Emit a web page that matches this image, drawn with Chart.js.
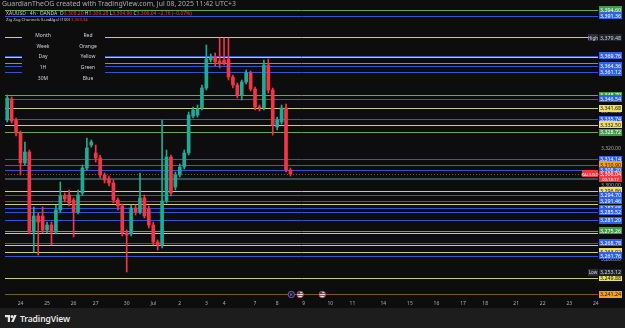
<!DOCTYPE html>
<html>
<head>
<meta charset="utf-8">
<script src="https://cdn.jsdelivr.net/npm/chart.js@4.4.1/dist/chart.umd.min.js"></script>
<style>
  * { margin: 0; padding: 0; box-sizing: border-box; }
  html, body { width: 625px; height: 328px; background: #0d0d0d; overflow: hidden; font-family: "Noto Sans", Arial, sans-serif; }
  #wrap { position: absolute; left: 0; top: 0; width: 625px; height: 308px; }
  #foot { position: absolute; left: 0; top: 308px; width: 625px; height: 20px; background: #1d1d1d; display: flex; align-items: center; padding-left: 5px; }
  #foot span { color: #e6e6e6; font-size: 8.5px; font-weight: 600; margin-left: 3px; letter-spacing: -0.1px; }
</style>
</head>
<body>
<div id="wrap"><canvas id="grafico"></canvas></div>
<div id="foot">
  <svg width="12" height="7" viewBox="0 0 12 7"><path d="M0 0h5v7h-2.2v-4.8h-2.8z" fill="#e6e6e6"/><circle cx="7" cy="1.6" r="1.5" fill="#e6e6e6"/><path d="M6.2 7h2.4l3-7h-2.4z" fill="#e6e6e6"/></svg>
  <span>TradingView</span>
</div>
<script>
// velas 4h XAUUSD
const open  = [3335.20,3346.54,3335.20,3328.18,3311.98,3317.92,3274.72,3283.36,3283.36,3275.80,3278.50,3274.72,3286.60,3294.16,3294.70,3292.00,3285.52,3295.78,3309.28,3321.70,3317.38,3314.68,3305.50,3303.34,3301.18,3292.00,3288.76,3274.18,3273.64,3287.68,3285.52,3293.08,3287.14,3278.50,3269.32,3267.70,3291.46,3315.22,3299.02,3305.50,3309.82,3317.38,3337.36,3337.90,3341.68,3352.48,3367.60,3369.22,3367.06,3367.60,3368.14,3358.42,3354.10,3348.70,3355.72,3360.58,3351.94,3342.22,3341.68,3364.90,3351.40,3331.42,3334.12,3341.68,3308.20];
const high  = [3348.70,3347.62,3336.28,3329.26,3323.32,3319.00,3288.22,3284.98,3288.22,3280.12,3280.12,3289.30,3301.72,3295.78,3297.40,3293.08,3297.40,3310.90,3325.48,3324.40,3321.70,3316.30,3306.58,3304.96,3302.80,3293.08,3289.84,3275.80,3289.30,3289.30,3306.58,3294.70,3288.76,3280.12,3270.40,3335.20,3319.00,3316.30,3307.12,3311.44,3319.00,3339.52,3342.22,3343.30,3354.10,3375.70,3370.84,3371.38,3379.48,3379.48,3379.48,3359.50,3355.18,3356.80,3362.20,3361.66,3353.02,3343.30,3367.60,3368.14,3352.48,3336.82,3343.30,3343.84,3309.28];
const low   = [3334.12,3333.58,3326.56,3305.50,3310.90,3273.64,3263.92,3262.30,3274.18,3274.18,3267.70,3273.64,3285.52,3290.92,3288.76,3272.02,3284.44,3294.70,3308.20,3320.62,3312.52,3303.88,3301.18,3299.56,3290.38,3286.60,3272.56,3253.12,3272.56,3283.90,3284.44,3282.28,3276.88,3267.70,3265.00,3266.08,3290.38,3294.16,3297.40,3304.42,3308.74,3316.30,3336.28,3336.82,3340.60,3351.40,3366.52,3364.36,3363.28,3364.90,3356.80,3352.48,3347.08,3346.00,3354.64,3350.86,3340.60,3340.06,3340.60,3349.78,3327.10,3329.80,3333.04,3307.12,3304.96];
const close = [3347.08,3334.66,3328.18,3311.98,3317.92,3274.72,3283.36,3280.12,3275.80,3278.50,3274.72,3286.60,3294.16,3292.54,3290.38,3285.52,3294.70,3309.28,3320.08,3323.32,3314.68,3305.50,3302.80,3301.18,3292.00,3288.76,3274.18,3273.10,3287.68,3285.52,3293.08,3283.36,3278.50,3269.32,3267.70,3291.46,3315.22,3295.78,3305.50,3309.82,3317.38,3337.90,3340.60,3341.14,3352.48,3368.14,3369.22,3366.52,3365.98,3365.98,3358.42,3354.10,3348.70,3355.72,3360.58,3351.94,3342.22,3341.68,3364.90,3351.40,3332.50,3335.20,3341.68,3308.20,3306.04];

// eje de tiempo: 134 huecos de 4h, etiqueta en el primer hueco de cada dia
const slotCount = 134;
const dayStart  = [3, 9, 15, 20, 27, 33, 39, 45, 49, 56, 61, 67, 73, 78, 85, 91, 97, 103, 108, 115, 121, 127, 133];
const dayLabels = ['24','25','26','27','30','Jul','2','3','4','7','8','9','10','11','14','15','16','17','18','21','22','23','24'];

// niveles del Zig Zag Channels
const levelPrice  = [3394.60,3391.36,3380.02,3369.22,3369.76,3365.98,3364.36,3361.12,3348.70,3346.54,3341.68,3335.74,3332.50,3328.72,3314.14,3310.90,3308.20,3303.34,3296.86,3294.70,3291.46,3289.84,3287.68,3285.52,3281.20,3275.26,3274.18,3267.70,3268.78,3263.92,3261.76,3249.88,3241.24];
const levelFrame  = ['1H','30M','Day','Ref','30M','1H','30M','30M','1H','30M','Day','30M','Day','1H','30M','Week','30M','Band','Day','30M','30M','Day','30M','30M','30M','1H','Day','Ref','30M','Day','30M','Day','Week'];
const levelTagged = [true,true,false,false,true,false,true,true,true,true,true,true,true,true,true,true,true,false,true,true,true,false,true,true,true,true,false,false,true,true,true,true,true];

const priceTicks = [3380, 3360, 3340, 3320, 3300, 3280, 3260];

const tableFrames = ['Month','Week','Day','1H','30M'];
const tableColors = ['Red','Orange','Yellow','Green','Blue'];

const UP = '#22ab94', DOWN = '#f23645';
const lineColor = { '30M': '#2f55d4', '1H': '#6aa84f', 'Day': '#d2cc78', 'Week': '#7a5a26', 'Ref': '#c8c8c8', 'Band': '#33525a' };
const tagBg = { '30M': '#2f62e9', '1H': '#3f9e45', 'Day': '#ece067', 'Week': '#f5a11c' };
const tagFg = { '30M': '#ffffff', '1H': '#ffffff', 'Day': '#141414', 'Week': '#141414' };
const FONT = '"Noto Sans", Arial, sans-serif';

const fmt = v => v.toLocaleString('en-US', { minimumFractionDigits: 2, maximumFractionDigits: 2 });
const isUp = close.map((c, i) => c >= open[i]);

function tag(ctx, py, text, bg, fg, h) {
    ctx.fillStyle = bg;
    ctx.fillRect(599, Math.round(py - h / 2), 23, h);
    ctx.fillStyle = fg;
    ctx.fillText(text, 610.5, py + 0.3);
}

const overlay = {
    id: 'overlay',
    beforeDatasetsDraw(chart) {
        const { ctx, chartArea: a, scales: { y } } = chart;
        ctx.save();
        levelPrice.forEach((v, i) => {
            const f = levelFrame[i];
            const w = f === 'Band' ? 2 : 1;
            const py = Math.round(y.getPixelForValue(v)) + (w === 1 ? 0.5 : 0);
            ctx.strokeStyle = lineColor[f];
            ctx.lineWidth = w;
            ctx.beginPath(); ctx.moveTo(a.left, py); ctx.lineTo(a.right, py); ctx.stroke();
        });
        // linea de precio actual
        const last = close[close.length - 1];
        const py = Math.round(y.getPixelForValue(last)) + 0.5;
        ctx.strokeStyle = '#8a4a50';
        ctx.setLineDash([1, 2]);
        ctx.beginPath(); ctx.moveTo(a.left, py); ctx.lineTo(a.right, py); ctx.stroke();
        ctx.restore();
    },
    afterDatasetsDraw(chart) {
        const { ctx, scales: { x, y } } = chart;
        ctx.save();

        // tabla de colores
        ctx.fillStyle = '#0d0d0d';
        ctx.fillRect(22, 29, 83, 55);
        ctx.font = '5px ' + FONT;
        ctx.fillStyle = '#d1d4dc';
        ctx.textAlign = 'center';
        ctx.textBaseline = 'middle';
        tableFrames.forEach((t, i) => {
            const ry = 35.5 + i * 10.7;
            ctx.fillText(t, 43, ry);
            ctx.fillText(tableColors[i], 88, ry);
        });

        // etiquetas en la escala de precios
        ctx.font = '5.3px ' + FONT;
        levelPrice.forEach((v, i) => {
            if (!levelTagged[i]) return;
            const f = levelFrame[i];
            tag(ctx, y.getPixelForValue(v), fmt(v), tagBg[f], tagFg[f], 7);
        });

        // maximo / minimo visibles
        const hi = Math.max(...high), lo = Math.min(...low);
        [[hi, 'High'], [lo, 'Low']].forEach(([v, t]) => {
            const py = y.getPixelForValue(v);
            ctx.fillStyle = '#2a2e39';
            ctx.fillRect(588, Math.round(py - 3.5), 10, 7);
            ctx.fillStyle = '#d1d4dc';
            ctx.font = '4.5px ' + FONT;
            ctx.fillText(t, 593, py + 0.3);
            ctx.font = '5.3px ' + FONT;
            tag(ctx, py, fmt(v), '#1f232b', '#d1d4dc', 7);
        });

        // precio actual
        const last = close[close.length - 1];
        const cy = y.getPixelForValue(last);
        ctx.fillStyle = DOWN;
        ctx.fillRect(599, Math.round(cy - 2), 23, 10);
        ctx.fillRect(582, Math.round(cy - 3.5), 16, 7);
        ctx.fillStyle = '#ffffff';
        ctx.font = '5.3px ' + FONT;
        ctx.fillText(fmt(last), 610.5, cy + 0.8);
        ctx.font = '4.3px ' + FONT;
        ctx.fillText('00:18:17', 610.5, cy + 5.3);
        ctx.fillText('XAUUSD', 590, cy + 0.3);

        // eventos economicos
        const ey = 294.5;
        const ev = [[64.2, 'e'], [66.2, 'us'], [71.2, 'us']];
        ev.forEach(([s, k]) => {
            const ex = x.getPixelForValue(Math.floor(s)) + (s % 1) * 4.4;
            ctx.beginPath(); ctx.arc(ex, ey, 3.2, 0, Math.PI * 2);
            if (k === 'e') {
                ctx.fillStyle = '#1a1330'; ctx.fill();
                ctx.strokeStyle = '#8e6bd8'; ctx.lineWidth = 0.8; ctx.stroke();
                ctx.fillStyle = '#b9a2f0'; ctx.font = '4px ' + FONT; ctx.fillText('E', ex, ey + 0.2);
            } else {
                ctx.fillStyle = '#e9e9e9'; ctx.fill();
                ctx.fillStyle = '#c8283c'; ctx.fillRect(ex - 3, ey - 1.4, 6, 0.9); ctx.fillRect(ex - 3, ey + 0.6, 6, 0.9);
                ctx.fillStyle = '#33418c'; ctx.fillRect(ex - 2.6, ey - 2.6, 2.6, 2.2);
                ctx.strokeStyle = '#c8283c'; ctx.lineWidth = 0.8; ctx.stroke();
            }
        });
        ctx.restore();
    },
    afterDraw(chart) {
        const { ctx } = chart;
        const n = close.length - 1;
        ctx.save();
        ctx.textBaseline = 'middle';
        ctx.textAlign = 'left';
        ctx.font = '6.9px ' + FONT;
        ctx.fillStyle = '#a9acb4';
        ctx.fillText('GuardianTheOG created with TradingView.com, Jul 08, 2025 11:42 UTC+3', 2, 4.5);

        // leyenda del simbolo
        const chg = close[n] - close[n - 1];
        const parts = [
            ['XAUUSD \u00b7 4h \u00b7 OANDA  ', '#c9ccd4'],
            ['O', '#c9ccd4'], [fmt(open[n]) + ' ', DOWN],
            ['H', '#c9ccd4'], [fmt(high[n]) + ' ', DOWN],
            ['L', '#c9ccd4'], [fmt(low[n]) + ' ', DOWN],
            ['C', '#c9ccd4'], [fmt(close[n]) + ' ', DOWN],
            ['\u2212' + fmt(Math.abs(chg)) + ' (\u2212' + (Math.abs(chg) / close[n - 1] * 100).toFixed(2) + '%)', DOWN]
        ];
        let tx = 6;
        ctx.font = '5px ' + FONT;
        parts.forEach(([t, c]) => { ctx.fillStyle = c; ctx.fillText(t, tx, 13.5); tx += ctx.measureText(t).width; });
        ctx.font = '4.2px ' + FONT;
        ctx.fillStyle = '#c9ccd4';
        const zz = 'Zig Zag Channels (LuxAlgo) (100) ';
        ctx.fillText(zz, 6, 20);
        ctx.fillStyle = DOWN;
        ctx.fillText(fmt(levelPrice[17]), 6 + ctx.measureText(zz).width, 20);
        ctx.restore();
    }
};

const ctx = document.getElementById('grafico').getContext('2d');

const chart = new Chart(ctx, {
    type: 'bar',
    data: {
        labels: Array.from({ length: slotCount }, (_, i) => i),
        datasets: [{
            label: 'cuerpo',
            data: open.map((o, i) => [Math.min(o, close[i]), Math.max(o, close[i])]),
            backgroundColor: isUp.map(u => u ? UP : DOWN),
            barThickness: 3,
            minBarLength: 1,
            grouped: false,
            order: 0
        }, {
            label: 'mecha',
            data: low.map((l, i) => [l, high[i]]),
            backgroundColor: isUp.map(u => u ? UP : DOWN),
            barThickness: 1,
            grouped: false,
            order: 1
        }]
    },
    options: {
        responsive: true,
        maintainAspectRatio: false,
        devicePixelRatio: 1,
        animation: false,
        layout: { padding: { left: 5, top: 9, right: 0, bottom: 0 } },
        plugins: { legend: { display: false }, tooltip: { enabled: false } },
        scales: {
            x: {
                grid: { display: false, drawTicks: false },
                border: { display: false },
                afterFit: s => { s.height = 10; },
                ticks: {
                    autoSkip: false, maxRotation: 0, padding: 3,
                    color: '#a9acb4', font: { size: 5, family: FONT },
                    callback: (v, i) => { const k = dayStart.indexOf(i); return k >= 0 ? dayLabels[k] : ''; }
                }
            },
            y: {
                position: 'right',
                min: 3239.08, max: 3395.14,
                grid: { display: false, drawTicks: false },
                border: { display: false },
                afterFit: s => { s.width = 27; },
                afterBuildTicks: s => { s.ticks = priceTicks.map(v => ({ value: v })); },
                ticks: {
                    padding: 3, color: '#a9acb4', font: { size: 5, family: FONT },
                    callback: v => fmt(v)
                }
            }
        }
    },
    plugins: [overlay]
});
</script>
</body>
</html>
